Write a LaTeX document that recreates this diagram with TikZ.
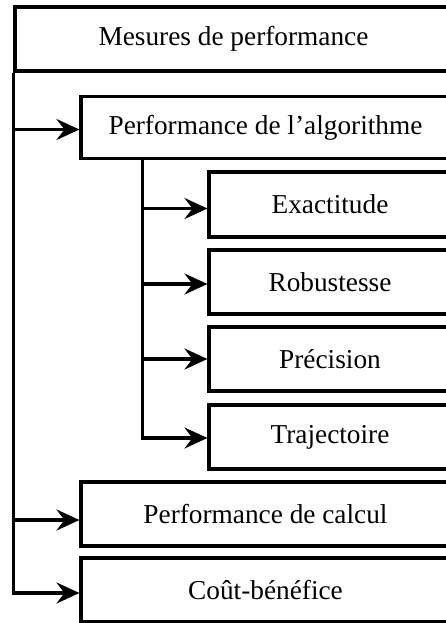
\documentclass[tikz,border=0pt]{standalone}
\usepackage{fontspec}
\setmainfont{Liberation Serif}
\usetikzlibrary{arrows.meta}
\begin{document}
\begin{tikzpicture}[x=1pt,y=-1pt,
  box/.style={draw, line width=3.1pt, inner sep=0pt, font=\fontsize{27.3}{32}\selectfont},
  arr/.style={line width=3.1pt, -{Stealth[length=23pt,width=21pt,inset=8pt]}}]
\useasboundingbox (0,0) rectangle (446,623);
\clip (0,0) rectangle (446,623);
\node[box, minimum width=437pt, minimum height=64pt] (m) at (233.5,39) {Mesures de performance};
\node[box, minimum width=369pt, minimum height=62pt] (algo) at (265.5,127.5) {Performance de l’algorithme};
\node[box, minimum width=242pt, minimum height=65pt] (ex) at (330,204.5) {Exactitude};
\node[box, minimum width=242pt, minimum height=64pt] (ro) at (330,282) {Robustesse};
\node[box, minimum width=242pt, minimum height=64pt] (pr) at (330,359) {Précision};
\node[box, minimum width=242pt, minimum height=64pt] (tr) at (330,437) {Trajectoire};
\node[box, minimum width=369pt, minimum height=64pt] (ca) at (265.5,514) {Performance de calcul};
\node[box, minimum width=369pt, minimum height=64pt] (co) at (265.5,590) {Coût-bénéfice};
% main trunk
\coordinate (tA) at ([yshift=-2pt]algo.west -| m.south west);
\coordinate (tC) at ([yshift=-6pt]ca.west -| m.south west);
\draw[arr] (m.south west) |- ([yshift=-3pt]co.west);
\draw[arr] (tA) -- ([yshift=-2pt]algo.west);
\draw[arr] (tC) -- ([yshift=-6pt]ca.west);
% sub trunk
\path (algo.south west) ++(63,0) coordinate (st);
\coordinate (sE) at ([yshift=-4pt]ex.west -| st);
\coordinate (sR) at ([yshift=-2pt]ro.west -| st);
\coordinate (sP) at (pr.west -| st);
\draw[arr] (st) |- ([yshift=-1pt]tr.west);
\draw[arr] (sE) -- ([yshift=-4pt]ex.west);
\draw[arr] (sR) -- ([yshift=-2pt]ro.west);
\draw[arr] (sP) -- (pr.west);
\end{tikzpicture}
\end{document}
